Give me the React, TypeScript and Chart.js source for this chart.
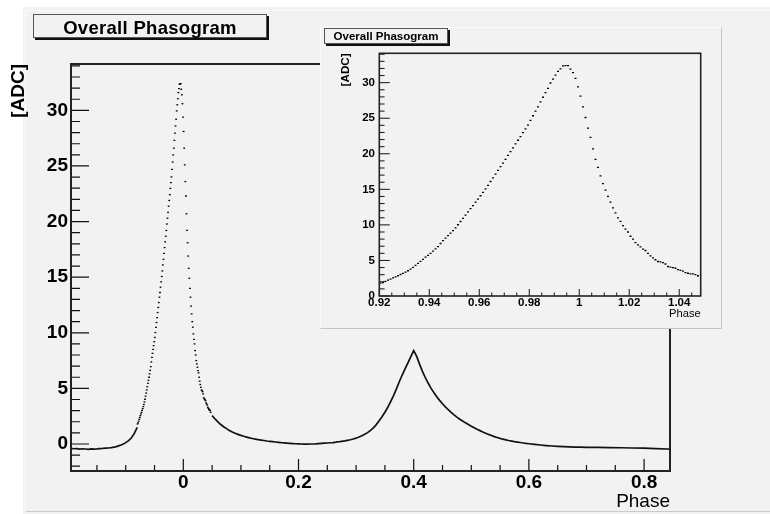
import React, { useEffect, useRef } from 'react';
import { Chart, registerables } from 'chart.js';

Chart.register(...registerables);

const FONT = "'Liberation Sans', Arial, Helvetica, sans-serif";

// ---------- DATA ----------
// Phasogram histogram (bin width 0.001), phase 0.920 - 1.048
const BIN_WIDTH = 0.001;
const INSET_FIRST_BIN_CENTER = 0.9205;
const insetValues = [
  1.80, 1.90, 2.05, 2.22, 2.38, 2.55, 2.70, 2.85, 3.02, 3.18,
  3.36, 3.55, 3.78, 4.02, 4.30, 4.58, 4.86, 5.15, 5.46, 5.72,
  6.00, 6.30, 6.62, 6.95, 7.38, 7.78, 8.15, 8.50, 8.84, 9.20,
  9.58, 10.02, 10.48, 10.92, 11.36, 11.82, 12.28, 12.72, 13.20, 13.62,
  14.10, 14.58, 15.06, 15.56, 16.10, 16.60, 17.14, 17.66, 18.18, 18.68,
  19.20, 19.78, 20.30, 20.82, 21.38, 21.90, 22.42, 22.98, 23.50, 24.02,
  24.70, 25.35, 26.00, 26.60, 27.30, 27.95, 28.60, 29.20, 29.95, 30.50,
  31.05, 31.60, 31.95, 32.35, 32.40, 32.40, 31.90, 31.40, 30.60, 29.40,
  28.10, 26.60, 25.10, 23.60, 22.30, 20.70, 19.20, 18.10, 16.90, 15.80,
  14.90, 14.00, 13.20, 12.40, 11.70, 11.00, 10.50, 9.90, 9.40, 9.00,
  8.40, 8.00, 7.50, 7.20, 6.90, 6.60, 6.40, 6.00, 5.65, 5.35,
  5.10, 4.85, 4.80, 4.70, 4.50, 4.15, 4.05, 4.00, 3.90, 3.70,
  3.60, 3.50, 3.30, 3.20, 3.10, 3.10, 3.00, 2.85,
];

// Main phasogram outside the main-peak window
const mainLeftPhase = [
  -0.195, -0.19, -0.185, -0.18, -0.175, -0.17, -0.165, -0.16, -0.155, -0.15,
  -0.145, -0.14, -0.135, -0.13, -0.125, -0.12, -0.115, -0.11, -0.105, -0.1,
  -0.095, -0.09, -0.085, -0.08,
];
const mainLeftValue = [
  -0.40, -0.43, -0.42, -0.46, -0.43, -0.45, -0.48, -0.44, -0.46, -0.44,
  -0.41, -0.40, -0.38, -0.36, -0.33, -0.29, -0.22, -0.13, -0.02, 0.12,
  0.30, 0.56, 0.95, 1.50,
];
const mainRightPhase = [
  0.05, 0.055, 0.06, 0.065, 0.07, 0.075, 0.08, 0.085, 0.09, 0.095,
  0.1, 0.105, 0.11, 0.115, 0.12, 0.125, 0.13, 0.135, 0.14, 0.145,
  0.15, 0.155, 0.16, 0.165, 0.17, 0.175, 0.18, 0.185, 0.19, 0.195,
  0.2, 0.205, 0.21, 0.215, 0.22, 0.225, 0.23, 0.235, 0.24, 0.245,
  0.25, 0.255, 0.26, 0.265, 0.27, 0.275, 0.28, 0.285, 0.29, 0.295,
  0.3, 0.305, 0.31, 0.315, 0.32, 0.325, 0.33, 0.335, 0.34, 0.345,
  0.35, 0.355, 0.36, 0.365, 0.37, 0.375, 0.38, 0.385, 0.39, 0.395,
  0.4, 0.405, 0.41, 0.415, 0.42, 0.425, 0.43, 0.435, 0.44, 0.445,
  0.45, 0.455, 0.46, 0.465, 0.47, 0.475, 0.48, 0.485, 0.49, 0.495,
  0.5, 0.505, 0.51, 0.515, 0.52, 0.525, 0.53, 0.535, 0.54, 0.545,
  0.55, 0.555, 0.56, 0.565, 0.57, 0.575, 0.58, 0.585, 0.59, 0.595,
  0.6, 0.61, 0.62, 0.63, 0.64, 0.65, 0.66, 0.67, 0.68, 0.69,
  0.7, 0.72, 0.74, 0.76, 0.78, 0.8, 0.82, 0.84, 0.845,
];
const mainRightValue = [
  2.55, 2.25, 1.98, 1.75, 1.55, 1.38, 1.22, 1.08, 0.96, 0.86,
  0.77, 0.69, 0.62, 0.55, 0.49, 0.44, 0.39, 0.35, 0.31, 0.27,
  0.24, 0.21, 0.18, 0.15, 0.12, 0.10, 0.08, 0.06, 0.04, 0.02,
  0.01, 0.00, -0.01, -0.01, 0.00, 0.00, 0.01, 0.03, 0.05, 0.07,
  0.09, 0.11, 0.13, 0.16, 0.20, 0.24, 0.28, 0.33, 0.38, 0.45,
  0.52, 0.62, 0.74, 0.87, 1.02, 1.22, 1.45, 1.74, 2.08, 2.45,
  2.85, 3.30, 3.80, 4.35, 4.95, 5.60, 6.20, 6.75, 7.30, 7.85,
  8.40, 7.90, 7.20, 6.55, 5.98, 5.48, 5.02, 4.62, 4.25, 3.92,
  3.62, 3.34, 3.08, 2.84, 2.62, 2.42, 2.23, 2.06, 1.90, 1.75,
  1.60, 1.46, 1.32, 1.20, 1.08, 0.97, 0.86, 0.76, 0.66, 0.58,
  0.50, 0.43, 0.37, 0.31, 0.26, 0.21, 0.17, 0.13, 0.09, 0.05,
  0.02, -0.04, -0.09, -0.14, -0.18, -0.21, -0.24, -0.26, -0.28, -0.29,
  -0.30, -0.31, -0.32, -0.34, -0.36, -0.38, -0.41, -0.45, -0.46,
];

// Axis tick labels
const mainXTicks = [0, 0.2, 0.4, 0.6, 0.8];
const mainYTicks = [0, 5, 10, 15, 20, 25, 30];
const insetXTicks = [0.92, 0.94, 0.96, 0.98, 1, 1.02, 1.04];
const insetYTicks = [0, 5, 10, 15, 20, 25, 30];

const TITLE = 'Overall Phasogram';
const X_TITLE = 'Phase';
const Y_TITLE = '[ADC]';

// ---------- helpers ----------
const insetPhase = insetValues.map((_, i) => INSET_FIRST_BIN_CENTER + i * BIN_WIDTH);
const fmt = (v: number) => String(parseFloat(Number(v).toFixed(3)));

function stepTicks(min: number, max: number, step: number, skipMultipleOf?: number) {
  const out: number[] = [];
  const k0 = Math.ceil(min / step - 1e-9);
  const k1 = Math.floor(max / step + 1e-9);
  for (let k = k0; k <= k1; k++) {
    const v = k * step;
    if (skipMultipleOf) {
      const r = v / skipMultipleOf;
      if (Math.abs(r - Math.round(r)) < 1e-6) continue;
    }
    out.push(v);
  }
  return out;
}

type AxisP = {
  xMin: number; xMax: number; yMin: number; yMax: number;
  xTicks: number[]; yTicks: number[];
  tickSize: number; xTitleSize: number; yTitleSize: number;
  xLabelPad: number; yLabelPad: number; xTitlePadBottom: number; yTitlePadTop: number;
  yAxisWidth: number; xAxisHeight: number;
};

function mkScales(p: AxisP): any {
  return {
    x: {
      type: 'linear', position: 'bottom', min: p.xMin, max: p.xMax,
      grid: { display: false, drawTicks: false }, border: { display: false },
      afterBuildTicks: (s: any) => { s.ticks = p.xTicks.map((v) => ({ value: v })); },
      afterFit: (s: any) => { s.height = p.xAxisHeight; },
      ticks: {
        autoSkip: false, maxRotation: 0, minRotation: 0, includeBounds: false,
        padding: p.xLabelPad, color: '#000',
        font: { family: FONT, size: p.tickSize, weight: 'bold', lineHeight: 1.2 },
        callback: (v: any) => fmt(v),
      },
      title: {
        display: true, text: X_TITLE, align: 'end', color: '#000',
        font: { family: FONT, size: p.xTitleSize, weight: 'normal', lineHeight: 1.2 },
        padding: { top: 0, bottom: p.xTitlePadBottom },
      },
    },
    y: {
      type: 'linear', position: 'left', min: p.yMin, max: p.yMax,
      grid: { display: false, drawTicks: false }, border: { display: false },
      afterBuildTicks: (s: any) => { s.ticks = p.yTicks.map((v) => ({ value: v })); },
      afterFit: (s: any) => { s.width = p.yAxisWidth; },
      ticks: {
        autoSkip: false, includeBounds: false, padding: p.yLabelPad, color: '#000',
        font: { family: FONT, size: p.tickSize, weight: 'bold', lineHeight: 1.2 },
        callback: (v: any) => fmt(v),
      },
      title: {
        display: true, text: Y_TITLE, align: 'end', color: '#000',
        font: { family: FONT, size: p.yTitleSize, weight: 'bold', lineHeight: 1.2 },
        padding: { top: p.yTitlePadTop, bottom: 0 },
      },
    },
  };
}

type FrameP = {
  id: string;
  drawPad: (ctx: CanvasRenderingContext2D) => void;
  xMinorStep: number; xMajorStep: number; yMinorStep: number; yMajorStep: number;
  xMajLen: number; xMinLen: number; yMajLen: number; yMinLen: number;
  frameWidth: number; tickWidth: number;
};

function framePlugin(o: FrameP): any {
  return {
    id: o.id,
    beforeDraw(chart: any) {
      const ctx = chart.ctx as CanvasRenderingContext2D;
      ctx.save();
      o.drawPad(ctx);
      ctx.restore();
    },
    afterDatasetsDraw(chart: any) {
      const ctx = chart.ctx as CanvasRenderingContext2D;
      const a = chart.chartArea;
      const xs = chart.scales.x;
      const ys = chart.scales.y;
      ctx.save();
      ctx.strokeStyle = '#111';
      ctx.lineWidth = o.tickWidth;
      ctx.beginPath();
      const tx = (v: number, len: number) => {
        const px = xs.getPixelForValue(v);
        ctx.moveTo(px, a.bottom);
        ctx.lineTo(px, a.bottom - len);
      };
      const ty = (v: number, len: number) => {
        const py = ys.getPixelForValue(v);
        ctx.moveTo(a.left, py);
        ctx.lineTo(a.left + len, py);
      };
      stepTicks(xs.min, xs.max, o.xMajorStep).forEach((v) => tx(v, o.xMajLen));
      stepTicks(xs.min, xs.max, o.xMinorStep, o.xMajorStep).forEach((v) => tx(v, o.xMinLen));
      stepTicks(ys.min, ys.max, o.yMajorStep).forEach((v) => ty(v, o.yMajLen));
      stepTicks(ys.min, ys.max, o.yMinorStep, o.yMajorStep).forEach((v) => ty(v, o.yMinLen));
      ctx.stroke();
      ctx.lineWidth = o.frameWidth;
      ctx.strokeStyle = '#222';
      ctx.strokeRect(a.left, a.top, a.right - a.left, a.bottom - a.top);
      ctx.restore();
    },
  };
}

const BG = '#f2f2f2';

function mainConfig(): any {
  const left = mainLeftPhase.map((p, i) => ({ x: p, y: mainLeftValue[i] }));
  const right = mainRightPhase.map((p, i) => ({ x: p, y: mainRightValue[i] }));
  const peak = insetPhase.map((p, i) => ({ x: p - 1, y: insetValues[i] }));
  const lineDs = (data: any[]) => ({
    data, showLine: true, borderColor: '#111', borderWidth: 1.7, pointRadius: 0,
    tension: 0, fill: false,
  });
  return {
    type: 'scatter',
    data: {
      datasets: [
        lineDs(left),
        lineDs(right),
        {
          data: peak, showLine: false, pointStyle: 'line', pointRadius: 0.9,
          pointBorderWidth: 1.3, pointBorderColor: '#000', pointBackgroundColor: '#000',
        },
      ],
    },
    options: {
      responsive: false, animation: false, events: [],
      layout: { autoPadding: false, padding: { top: 64, right: 100, bottom: 0, left: 0 } },
      plugins: { legend: { display: false }, tooltip: { enabled: false }, title: { display: false } },
      scales: mkScales({
        xMin: -0.195, xMax: 0.845, yMin: -2.43, yMax: 34.17,
        xTicks: mainXTicks, yTicks: mainYTicks,
        tickSize: 19, xTitleSize: 19, yTitleSize: 19,
        xLabelPad: 0, yLabelPad: 3, xTitlePadBottom: 1, yTitlePadTop: 7.6,
        yAxisWidth: 71, xAxisHeight: 43,
      }),
    },
    plugins: [
      framePlugin({
        id: 'mainFrame',
        drawPad: (ctx) => {
          ctx.fillStyle = BG;
          ctx.fillRect(23, 7, 747, 507);
          ctx.lineWidth = 1;
          ctx.strokeStyle = '#fcfcfc';
          ctx.beginPath();
          ctx.moveTo(25.5, 511);
          ctx.lineTo(25.5, 10.5);
          ctx.lineTo(770, 10.5);
          ctx.stroke();
          ctx.strokeStyle = '#cacaca';
          ctx.beginPath();
          ctx.moveTo(26, 511.5);
          ctx.lineTo(770, 511.5);
          ctx.stroke();
        },
        xMinorStep: 0.05, xMajorStep: 0.2, yMinorStep: 1, yMajorStep: 5,
        xMajLen: 12, xMinLen: 6, yMajLen: 18, yMinLen: 9,
        frameWidth: 2, tickWidth: 1.2,
      }),
    ],
  };
}

function insetConfig(): any {
  const pts = insetPhase.map((p, i) => ({ x: p, y: insetValues[i] }));
  return {
    type: 'scatter',
    data: {
      datasets: [
        {
          data: pts, showLine: false, pointStyle: 'line', pointRadius: 1,
          pointBorderWidth: 1.3, pointBorderColor: '#000', pointBackgroundColor: '#000',
        },
      ],
    },
    options: {
      responsive: false, animation: false, events: [],
      layout: { autoPadding: false, padding: { top: 26.3, right: 21.3, bottom: 0, left: 0 } },
      plugins: { legend: { display: false }, tooltip: { enabled: false }, title: { display: false } },
      scales: mkScales({
        xMin: 0.92, xMax: 1.0486, yMin: 0, yMax: 34.13,
        xTicks: insetXTicks, yTicks: insetYTicks,
        tickSize: 11.5, xTitleSize: 11.2, yTitleSize: 11.7,
        xLabelPad: 0, yLabelPad: 4.3, xTitlePadBottom: 8, yTitlePadTop: 19.2,
        yAxisWidth: 59.3, xAxisHeight: 33,
      }),
    },
    plugins: [
      framePlugin({
        id: 'insetFrame',
        drawPad: (ctx) => {
          ctx.fillStyle = BG;
          ctx.fillRect(0, 0, 402, 302);
          ctx.lineWidth = 1;
          ctx.strokeStyle = '#fbfbfb';
          ctx.beginPath();
          ctx.moveTo(0.5, 301);
          ctx.lineTo(0.5, 0.5);
          ctx.lineTo(401, 0.5);
          ctx.stroke();
          ctx.strokeStyle = '#c4c4c4';
          ctx.beginPath();
          ctx.moveTo(401.5, 0.5);
          ctx.lineTo(401.5, 301.5);
          ctx.lineTo(0.5, 301.5);
          ctx.stroke();
        },
        xMinorStep: 0.005, xMajorStep: 0.02, yMinorStep: 1, yMajorStep: 5,
        xMajLen: 7, xMinLen: 3.5, yMajLen: 10.5, yMinLen: 5.3,
        frameWidth: 1.6, tickWidth: 1,
      }),
    ],
  };
}

export default function App() {
  const mainRef = useRef<HTMLCanvasElement>(null);
  const insetRef = useRef<HTMLCanvasElement>(null);

  useEffect(() => {
    const main = new Chart(mainRef.current as HTMLCanvasElement, mainConfig());
    const inset = new Chart(insetRef.current as HTMLCanvasElement, insetConfig());
    return () => {
      main.destroy();
      inset.destroy();
    };
  }, []);

  const boxBase: React.CSSProperties = {
    position: 'absolute', boxSizing: 'border-box', border: '1px solid #555',
    background: BG, color: '#000', fontFamily: FONT, fontWeight: 'bold',
    textAlign: 'center', whiteSpace: 'nowrap', overflow: 'visible',
  };

  return (
    <div style={{ position: 'absolute', left: 0, top: 0, width: 770, height: 514, overflow: 'hidden' }}>
      <canvas ref={mainRef} width={770} height={514}
        style={{ position: 'absolute', left: 0, top: 0, width: 770, height: 514 }} />
      <div style={{
        ...boxBase, left: 33, top: 14, width: 234, height: 24,
        boxShadow: '2px 2px 0 #111', fontSize: 18.5, letterSpacing: 0.3,
        lineHeight: '22px', paddingTop: 2,
      }}>{TITLE}</div>
      <canvas ref={insetRef} width={402} height={302}
        style={{ position: 'absolute', left: 320, top: 27, width: 402, height: 302 }} />
      <div style={{
        ...boxBase, left: 324, top: 28, width: 124, height: 16,
        boxShadow: '2px 2px 0 #111', fontSize: 11.5, lineHeight: '14px',
      }}>{TITLE}</div>
    </div>
  );
}
